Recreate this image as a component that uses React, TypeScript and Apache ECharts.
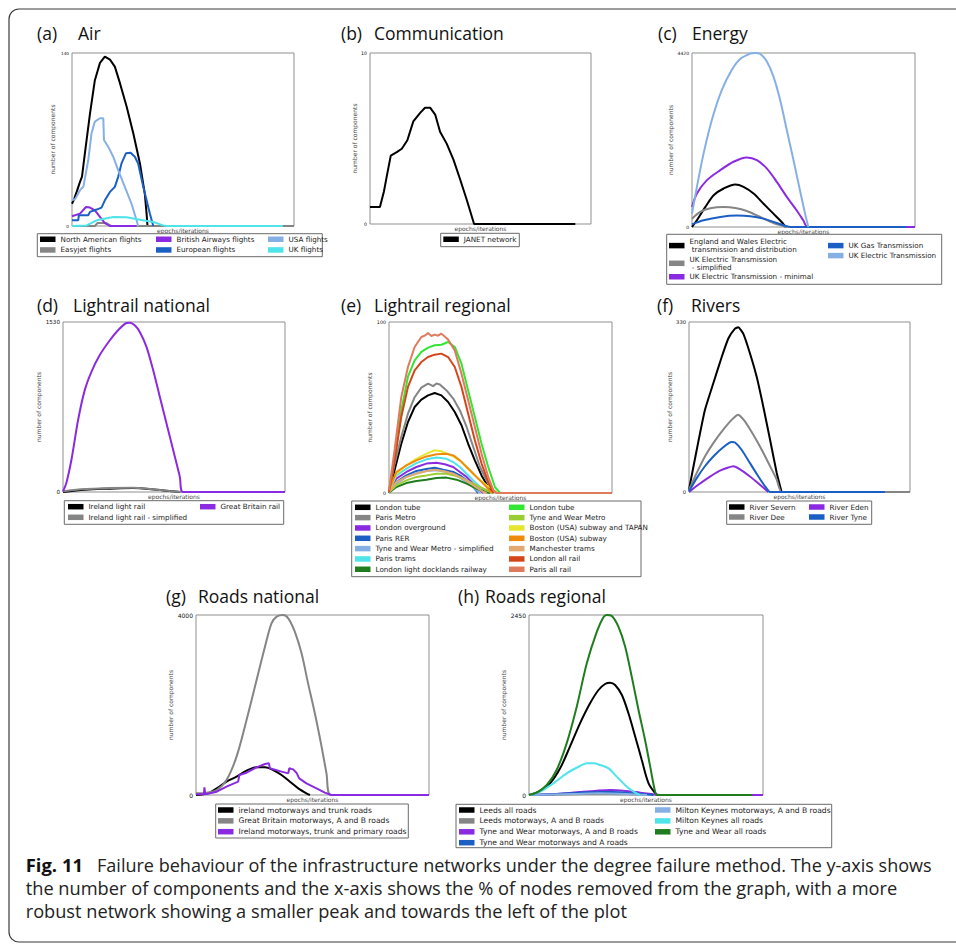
import React, { useEffect, useRef } from "react";
import * as echarts from "echarts";

// ---------- (a) Air ----------
const northAmericanFlights = [[0,18],[1,22],[2.1,27.6],[3.6,35.7],[4.5,40],[5.8,58.8],[8.1,91],[10.3,118],[12.6,132],[14.8,137],[17.1,134.6],[19.3,129],[21.6,115.6],[24.6,96.7],[27.6,75],[30.6,50.6],[32.8,26],[33.6,10],[34,0]];
const easyjetFlights = [[0,0],[10.3,0],[11.5,2.4],[15.5,2.4],[17.8,0],[100,0]];
const britishAirwaysFlights = [[0,7.9],[3.6,10],[6.3,15.4],[8.1,14.9],[10.3,12.7],[12.6,7.3],[14.8,2.4],[17.1,0],[29,0]];
const europeanFlights = [[0,4.6],[2.8,4.6],[3.1,8.7],[7.3,8.7],[8.1,11.4],[11.1,13.3],[13.3,14.9],[14.8,20.8],[17.1,27.6],[19.3,31.7],[20.8,39.8],[22.3,50.6],[24.3,58.8],[26.4,59.3],[28.3,56],[29.8,50.6],[32.1,31.7],[35.1,10],[36.6,0]];
const usaFlights = [[0,20.8],[1.5,22],[3.6,29],[5.1,31.7],[7.3,53],[8.8,75],[10.3,84.5],[12.6,87.2],[14.1,87.2],[14.4,69.6],[16.3,64.2],[18.6,56],[20.8,45.2],[23.8,31.7],[26.8,18],[29.1,4.6],[29.8,0]];
const ukFlights = [[0,0],[6.6,0.5],[11.1,4.6],[18.6,7.3],[24.6,7],[30.6,5.1],[36.6,3.2],[41.1,0.5],[42.6,0],[95,0]];

// ---------- (b) Communication ----------
const janetNetwork = [[0,1],[4.5,1],[6.3,1.9],[7.6,2.8],[9.4,4.0],[12.1,4.2],[14.4,4.4],[16.9,4.9],[19.6,6.0],[22.7,6.5],[24.9,6.8],[27.2,6.8],[29.5,6.4],[31.7,5.4],[34.7,4.7],[37.8,3.75],[40.8,2.6],[43.8,1.4],[47.1,0],[92.9,0]];

// ---------- (c) Energy ----------
const englandWalesElectric = [[0,0],[2.2,170],[6,510],[9.7,808],[14.2,978],[19.4,1080],[23.1,1020],[27.6,850],[32,595],[36.5,340],[40.2,128],[42,0]];
const ukElectricSimplified = [[0,212],[3.7,383],[8.2,476],[14.2,510],[19.4,485],[24.6,408],[30.6,255],[36.5,102],[41,25],[42.5,0]];
const ukElectricMinimal = [[0,510],[2.2,850],[6.7,1190],[12.7,1445],[18.6,1658],[24.6,1768],[29.1,1700],[33.5,1488],[38,1148],[42.5,765],[46.9,425],[49.9,170],[51.9,0],[100,0]];
const ukGasTransmission = [[0,68],[5.2,170],[12.7,255],[20.1,289],[26.1,272],[32,212],[38,102],[42.5,17],[44,0],[96,0]];
const ukElectricTransmission = [[0,340],[2.2,1020],[5.2,1870],[8.9,2720],[13.4,3485],[17.9,3995],[21.6,4267],[26.1,4403],[28.3,4420],[30.6,4395],[33.5,4208],[36.5,3825],[39.5,3230],[42.5,2465],[45.5,1700],[48.4,935],[50.7,340],[52.2,0]];

// ---------- (d) Lightrail national ----------
const irelandLightRail = [[0,0],[9.8,21],[21.1,30],[31.6,36],[42.1,21],[52.6,0]];
const irelandLightRailSimplified = [[0,6],[6,21],[10.5,27],[21.1,36],[31.6,39],[39.1,27],[48.1,9],[53.4,0]];
const greatBritainRail = [[0,6],[1.5,81],[3.8,290],[6.8,648],[9.8,917],[12.8,1082],[16.5,1231],[21.1,1366],[24.8,1456],[28.6,1521],[30.1,1524],[32.3,1500],[34.6,1440],[37.6,1306],[40.6,1097],[43.6,858],[46.6,619],[49.6,380],[52.6,140],[54.1,0],[100,0]];

// ---------- (e) Lightrail regional ----------
const londonTube = [[0,0.2],[2.5,13.3],[5.5,28.8],[8.5,41.5],[11.5,50.3],[14.5,54.6],[17.5,57.1],[20.5,58.5],[23.5,57.1],[26.5,53.2],[29.5,47.4],[32.5,39.6],[35.5,28.8],[38.5,19.1],[41.5,10.3],[44.5,3.5],[46.8,0]];
const parisMetro = [[0,0.6],[2.5,17],[5.5,32.7],[8.5,46.4],[11.5,56],[14.5,61.6],[17.5,64],[19.8,62.5],[21.3,64],[22.8,63.5],[25.8,60],[28.8,55.2],[31.8,48.3],[34.8,38.6],[37.8,26.9],[40.8,15.2],[43.8,7.4],[46.8,1.6],[48.3,0]];
const londonOverground = [[0,0.6],[3.3,8.4],[7.8,12.3],[12.3,15.2],[16.8,17.2],[21.3,17.7],[25,16.8],[28.8,15.2],[31.8,12.3],[34.8,9.4],[37.8,5.5],[40.8,1.6],[42.3,0]];
const parisRER = [[0,0.4],[3.3,6.4],[7.8,10.3],[12.3,12.9],[16.8,14],[20.5,14.8],[24.3,13.6],[28.8,12.3],[31.8,10.3],[34.8,7.4],[37.8,3.5],[40,0]];
const tyneWearMetroSimplified = [[0,0.4],[3.3,5.5],[7.8,9.4],[12.3,11.7],[16.8,12.9],[21.3,13.3],[25.8,12.3],[30.3,10.3],[34.8,6.4],[38.5,2.5],[40.8,0]];
const parisTrams = [[0,0.6],[3.3,10.3],[7.8,14.2],[12.3,17.5],[16.8,19.7],[21.3,20.7],[25.8,20],[28.8,18.1],[31.8,15.2],[34.8,11.3],[37.8,7.4],[40.8,3.5],[43.8,0]];
const londonDocklands = [[0,0.2],[3.3,3.5],[7.8,5.8],[12.3,7],[16.8,7.8],[21.3,8.8],[25.8,9],[30.3,7.8],[34.8,5.5],[39.3,2.5],[43.8,0.4],[45.3,0]];
const londonTubeGreen = [[0,0.6],[2.5,21],[5.5,48],[8.5,68],[11.5,77.6],[14.5,82.5],[17.5,85],[20.5,86.4],[23.5,86.7],[26.5,88.3],[29.5,85.4],[32.5,75.6],[35.5,60],[38.5,44.4],[41.5,28.8],[44.5,15.2],[47.5,3.5],[49.8,0]];
const tyneWearMetro = [[0,0.4],[3.3,4.5],[7.8,7.4],[12.3,9.4],[16.8,10.3],[21.3,11.3],[25.8,11.3],[30.3,9.9],[34.8,7.4],[39.3,4.5],[43.8,1.6],[46.8,0]];
const bostonSubwayTapan = [[0,1.6],[3.3,11.3],[7.8,16.2],[12.3,20],[16.8,23],[20.5,25],[23.5,24.4],[26.5,22.6],[29.5,21],[32.5,18.1],[36.3,13.3],[40,8.4],[43.8,4.5],[46.8,1.6],[49,0]];
const bostonSubway = [[0,1.6],[3.3,12.3],[7.8,16.2],[12.3,19.1],[16.8,21.4],[21.3,22.6],[25.8,23],[28.8,22],[31.8,19.1],[34.8,15.2],[37.8,11.3],[40.8,7.4],[43.8,3.5],[46,0]];
const manchesterTrams = [[0,0.4],[3.3,6.4],[7.8,9.4],[12.3,11.3],[16.8,12.9],[20.5,13.6],[24.3,12.9],[28.8,11.3],[33.3,8.4],[37.8,4.5],[42.3,0.6],[43.8,0]];
const londonAllRail = [[0,0.6],[2.5,19],[5.5,44.4],[8.5,62],[11.5,71.7],[14.5,76.6],[17.5,79.5],[20.5,80.9],[23.5,81.5],[26.5,79.5],[29.5,73.7],[32.5,62],[35.5,46.4],[38.5,30.8],[41.5,17.2],[44.5,6.4],[46.8,0]];
const parisAllRail = [[0,1.6],[2.5,25],[5.5,56],[8.5,73.7],[11.5,85.4],[14.5,91.2],[16,92],[17.5,93.5],[19,91.8],[20.5,92.6],[22,92],[23.5,93.2],[26.5,89.7],[29.5,83.4],[32.5,69.8],[35.5,54.2],[38.5,38.6],[41.5,23],[44.5,9.4],[46.8,1.6],[48.3,0],[100,0]];

// ---------- (f) Rivers ----------
const riverSevern = [[0,4.5],[3.5,82],[7.2,159],[11,211],[14.8,262],[17.8,298],[20.8,317],[22.3,320],[24.6,307],[27.6,269],[30.6,224],[33.6,166],[36.7,101],[39.7,37],[41.9,0]];
const riverDee = [[0,4.5],[3.5,37],[7.2,69],[11,95],[15.5,121],[19.3,140],[22.3,150],[25.3,137],[29.1,111],[32.9,82],[36.7,50],[39.7,24],[41.9,0],[100,0]];
const riverEden = [[0,0],[4.2,14],[9.5,30],[14.8,43],[20.1,50],[23.1,44],[27.6,30],[32.1,14],[35.9,0]];
const riverTyne = [[0,1.3],[3.5,27],[7.2,50],[11,69],[15.5,87],[19.3,97],[20.8,96],[23.8,82],[27.6,56],[31.4,30],[34.4,11],[36.7,0],[88.7,0]];

// ---------- (g) Roads national ----------
const irelandMotorwaysTrunk = [[0,0],[5.3,37],[8.9,148],[13.1,296],[17.4,407],[21.7,541],[26,615],[29.6,615],[33.1,556],[36.7,444],[40.3,296],[43.9,148],[47.4,37],[48.9,0]];
const gbMotorwaysAB = [[0,37],[4.6,52],[8.9,111],[13.1,333],[17.4,852],[21.7,1667],[26,2556],[29.6,3296],[32.4,3815],[34.6,3963],[37.4,4000],[39.6,3926],[42.4,3630],[45.3,3148],[48.1,2481],[51,1815],[53.9,1074],[56,481],[57.9,0],[100,0]];
const irelandMotorwaysPrimary = [[0,15],[3.4,15],[3.6,170],[4,15],[8.9,74],[13.1,185],[18.1,296],[18.6,444],[21.7,496],[26,615],[29.6,689],[31.3,704],[31.7,593],[36.7,519],[39.6,481],[40,593],[41.7,570],[43.1,496],[44.3,370],[47.4,259],[51.7,148],[55.3,52],[58.1,0],[100,0]];

// ---------- (h) Roads regional ----------
const leedsAllRoads = [[0,0],[4.7,54],[9,159],[13.3,363],[17.5,658],[21.8,975],[26.1,1248],[29.7,1429],[32.5,1511],[34.7,1529],[36.8,1497],[39.7,1361],[42.5,1112],[45.4,794],[48.2,476],[51.1,159],[54.6,0]];
const leedsMotorwaysAB = [[0,0],[19,9],[30.4,18],[41.8,9],[50.4,0]];
const tyneWearMotorwaysAB = [[0,0],[11.8,14],[21.8,41],[29,59],[34.7,68],[40.4,59],[47.5,32],[53.2,9],[56.1,0],[100,0]];
const tyneWearMotorwaysA = [[0,0],[11.8,14],[21.8,32],[30.4,41],[36.1,41],[44.6,23],[53.2,0]];
const miltonKeynesMotorwaysAB = [[0,0],[19,14],[30.4,23],[41.8,14],[50.4,0]];
const miltonKeynesAllRoads = [[0,0],[4.7,45],[10.4,159],[16.1,295],[21.8,395],[24.7,431],[27.5,431],[30.4,408],[34,363],[37.5,250],[41.8,113],[45.4,32],[47.5,0]];
const tyneWearAllRoads = [[0,0],[3.3,32],[7.6,136],[11.8,340],[16.1,703],[20.4,1202],[24.7,1792],[29,2223],[31.8,2418],[33.2,2450],[35.4,2436],[38.2,2291],[41.1,2019],[43.9,1611],[46.8,1157],[49.6,749],[51.8,386],[53.9,45],[54.9,0],[95.3,0]];

// ---------- axis maxima ----------
const yMaxima = [140, 10, 4420, 1530, 100, 330, 4000, 2450];

const captionBold = "Fig. 11";
const captionLines = [
  "Failure behaviour of the infrastructure networks under the degree failure method. The y-axis shows",
  "the number of components and the x-axis shows the % of nodes removed from the graph, with a more",
  "robust network showing a smaller peak and towards the left of the plot",
];

const C = {
  black: "#000000", gray: "#858585", purple: "#8a2be2", blue: "#1b5fc4", lightBlue: "#86b0e4",
  cyan: "#4fe3ea", green: "#33e633", yellowGreen: "#9acd32", yellow: "#e6e62e", orange: "#f08a0c",
  tan: "#e2a870", red: "#d4461a", salmon: "#e07a5c", darkGreen: "#1f7d1f",
};

type Ser = { name: string; color: string; data: number[][]; smooth?: number };
type Col = [number, number, number, number]; // left, count, top, gap
type Panel = {
  label: string; word: string; lx: number; wx: number; by: number;
  grid: number[]; ySize: number; nameGap: number; smooth: number;
  series: Ser[]; cols: Col[]; font: number; lh: number; box: number[];
};

const panels: Panel[] = [
  { label: "(a)", word: "Air", lx: 37, wx: 78, by: 39.3, grid: [72, 53, 222, 173], ySize: 4.2, nameGap: 17, smooth: 0,
    series: [
      { name: "North American flights", color: C.black, data: northAmericanFlights },
      { name: "Easyjet flights", color: C.gray, data: easyjetFlights },
      { name: "British Airways flights", color: C.purple, data: britishAirwaysFlights },
      { name: "European flights", color: C.blue, data: europeanFlights },
      { name: "USA flights", color: C.lightBlue, data: usaFlights },
      { name: "UK flights", color: C.cyan, data: ukFlights },
    ],
    cols: [[40, 2, 235, 2.2], [156, 2, 235, 2.2], [268, 2, 235, 2.2]], font: 7.2, lh: 8.5, box: [37.3, 233.7, 285, 23] },
  { label: "(b)", word: "Communication", lx: 341, wx: 374, by: 39.3, grid: [370, 53, 221, 171], ySize: 4.7, nameGap: 13, smooth: 0,
    series: [{ name: "JANET network", color: C.black, data: janetNetwork }],
    cols: [[443.3, 1, 235, 2]], font: 7.2, lh: 8.5, box: [440.7, 233.3, 78.6, 13.4] },
  { label: "(c)", word: "Energy", lx: 658, wx: 692, by: 39.3, grid: [692, 53, 223, 174], ySize: 4.5, nameGap: 19, smooth: 0.3,
    series: [
      { name: "England and Wales Electric\n transmission and distribution", color: C.black, data: englandWalesElectric },
      { name: "UK Electric Transmission\n - simplified", color: C.gray, data: ukElectricSimplified },
      { name: "UK Electric Transmission - minimal", color: C.purple, data: ukElectricMinimal },
      { name: "UK Gas Transmission", color: C.blue, data: ukGasTransmission },
      { name: "UK Electric Transmission", color: C.lightBlue, data: ukElectricTransmission },
    ],
    cols: [[669, 3, 237.1, 0.7], [828, 2, 241.35, 1.5]], font: 7.2, lh: 8.5, box: [666.7, 234.3, 275, 50] },
  { label: "(d)", word: "Lightrail national", lx: 37, wx: 73, by: 310.7, grid: [63, 322, 222, 170], ySize: 5.6, nameGap: 20, smooth: 0.3,
    series: [
      { name: "Ireland light rail", color: C.black, data: irelandLightRail },
      { name: "Ireland light rail - simplified", color: C.gray, data: irelandLightRailSimplified },
      { name: "Great Britain rail", color: C.purple, data: greatBritainRail },
    ],
    cols: [[68, 2, 502.45, 2.1], [200, 1, 502.45, 2.1]], font: 7.2, lh: 8.5, box: [64.3, 500.7, 219.4, 23.6] },
  { label: "(e)", word: "Lightrail regional", lx: 341, wx: 374, by: 310.7, grid: [389, 322, 223, 171], ySize: 4.8, nameGap: 16, smooth: 0,
    series: [
      { name: "London tube", color: C.black, data: londonTube },
      { name: "Paris Metro", color: C.gray, data: parisMetro },
      { name: "London overground", color: C.purple, data: londonOverground },
      { name: "Paris RER", color: C.blue, data: parisRER },
      { name: "Tyne and Wear Metro - simplified", color: C.lightBlue, data: tyneWearMetroSimplified },
      { name: "Paris trams", color: C.cyan, data: parisTrams },
      { name: "London light docklands railway", color: C.darkGreen, data: londonDocklands },
      { name: "London tube ", color: C.green, data: londonTubeGreen },
      { name: "Tyne and Wear Metro", color: C.yellowGreen, data: tyneWearMetro },
      { name: "Boston (USA) subway and TAPAN", color: C.yellow, data: bostonSubwayTapan },
      { name: "Boston (USA) subway", color: C.orange, data: bostonSubway },
      { name: "Manchester trams", color: C.tan, data: manchesterTrams },
      { name: "London all rail", color: C.red, data: londonAllRail },
      { name: "Paris all rail", color: C.salmon, data: parisAllRail },
    ],
    cols: [[355, 7, 503.05, 1.83], [509, 7, 503.05, 1.83]], font: 7.2, lh: 8.5, box: [351.7, 501, 289.3, 75.7] },
  { label: "(f)", word: "Rivers", lx: 657, wx: 691, by: 310.7, grid: [689, 322, 221, 170], ySize: 5.2, nameGap: 17, smooth: 0.15,
    series: [
      { name: "River Severn", color: C.black, data: riverSevern },
      { name: "River Dee", color: C.gray, data: riverDee },
      { name: "River Eden", color: C.purple, data: riverEden },
      { name: "River Tyne", color: C.blue, data: riverTyne },
    ],
    cols: [[729, 2, 502.75, 1.5], [809, 2, 502.75, 1.5]], font: 7.2, lh: 8.5, box: [726.7, 501, 145, 23.3] },
  { label: "(g)", word: "Roads national", lx: 166, wx: 198, by: 602, grid: [196, 615, 233, 180], ySize: 6, nameGap: 21.5, smooth: 0.3,
    series: [
      { name: "ireland motorways and trunk roads", color: C.black, data: irelandMotorwaysTrunk },
      { name: "Great Britain motorways, A and B roads", color: C.gray, data: gbMotorwaysAB },
      { name: "Ireland motorways, trunk and primary roads", color: C.purple, data: irelandMotorwaysPrimary, smooth: 0 },
    ],
    cols: [[218, 3, 805.5, 1.85]], font: 7.6, lh: 9, box: [215.7, 804, 192.6, 34] },
  { label: "(h)", word: "Roads regional", lx: 458, wx: 485, by: 602, grid: [529, 615, 234, 180], ySize: 6, nameGap: 21, smooth: 0.3,
    series: [
      { name: "Leeds all roads", color: C.black, data: leedsAllRoads },
      { name: "Leeds motorways, A and B roads", color: C.gray, data: leedsMotorwaysAB },
      { name: "Tyne and Wear motorways, A and B roads", color: C.purple, data: tyneWearMotorwaysAB },
      { name: "Tyne and Wear motorways and A roads", color: C.blue, data: tyneWearMotorwaysA },
      { name: "Milton Keynes motorways, A and B roads", color: C.lightBlue, data: miltonKeynesMotorwaysAB },
      { name: "Milton Keynes all roads", color: C.cyan, data: miltonKeynesAllRoads },
      { name: "Tyne and Wear all roads", color: C.darkGreen, data: tyneWearAllRoads },
    ],
    cols: [[459, 4, 805.5, 1.9], [655, 3, 805.5, 1.9]], font: 7.6, lh: 9, box: [456, 804.3, 375.7, 43.4] },
];

const AXIS_FONT = "DejaVu Sans";
const TITLE_FONT = "Open Sans";

function measure(text: string, font: string): number {
  const ctx = document.createElement("canvas").getContext("2d");
  if (!ctx) return 0;
  ctx.font = font;
  return ctx.measureText(text).width;
}

function buildOption() {
  const grid: any[] = [];
  const xAxis: any[] = [];
  const yAxis: any[] = [];
  const series: any[] = [];
  const legend: any[] = [];
  const graphic: any[] = [];

  graphic.push({
    type: "rect", z: 0, silent: true,
    shape: { x: 9, y: 9, width: 1000, height: 933, r: 10 },
    style: { fill: "none", stroke: "#3a3a3a", lineWidth: 1.2 },
  });

  panels.forEach((p, i) => {
    const [l, t, w, h] = p.grid;
    grid.push({ left: l, top: t, width: w, height: h, show: true, borderColor: "#8f8f8f", borderWidth: 1, backgroundColor: "transparent" });
    xAxis.push({
      gridIndex: i, type: "value", min: 0, max: 100,
      axisLine: { show: false }, axisTick: { show: false }, axisLabel: { show: false }, splitLine: { show: false },
      name: "epochs/iterations", nameLocation: "middle", nameGap: 1.5,
      nameTextStyle: { fontFamily: AXIS_FONT, fontSize: 6, color: "#444" },
    });
    yAxis.push({
      gridIndex: i, type: "value", min: 0, max: yMaxima[i], interval: yMaxima[i],
      axisLine: { show: false }, axisTick: { show: false }, splitLine: { show: false },
      axisLabel: { fontFamily: AXIS_FONT, fontSize: p.ySize, color: "#111", margin: 3, formatter: (v: number) => String(v) },
      name: "number of components", nameLocation: "middle", nameRotate: 90, nameGap: p.nameGap,
      nameTextStyle: { fontFamily: AXIS_FONT, fontSize: 6, color: "#444" },
    });
    p.series.forEach((s) => {
      const sm = s.smooth !== undefined ? s.smooth : p.smooth;
      series.push({
        type: "line", name: s.name, xAxisIndex: i, yAxisIndex: i, data: s.data,
        showSymbol: false, symbol: "none", smooth: sm > 0 ? sm : false,
        lineStyle: { color: s.color, width: 2 }, itemStyle: { color: s.color },
        emphasis: { disabled: true }, silent: true,
      });
    });
    let k = 0;
    p.cols.forEach(([left, n, top, gap]) => {
      const names = p.series.slice(k, k + n).map((s) => s.name);
      k += n;
      legend.push({
        orient: "vertical", left, top, padding: 0, itemGap: gap,
        icon: "rect", itemWidth: 15.5, itemHeight: 5.5, selectedMode: false,
        data: names,
        formatter: (nm: string) => nm.replace(/\s+$/, ""),
        textStyle: { fontFamily: AXIS_FONT, fontSize: p.font, lineHeight: p.lh, color: "#222", padding: 0 },
      });
    });
    const [bx, byy, bw, bh] = p.box;
    graphic.push({
      type: "rect", silent: true, z: 1,
      shape: { x: bx, y: byy, width: bw, height: bh },
      style: { fill: "#fff", stroke: "#6a6a6a", lineWidth: 1 },
    });
    const ty = p.by - 6.2;
    graphic.push({ type: "text", x: p.lx, y: ty, silent: true,
      style: { text: p.label, font: `17.5px "${TITLE_FONT}"`, fill: "#111", align: "left", verticalAlign: "middle" } });
    graphic.push({ type: "text", x: p.wx, y: ty, silent: true,
      style: { text: p.word, font: `17.5px "${TITLE_FONT}"`, fill: "#111", align: "left", verticalAlign: "middle" } });
  });

  // caption
  const capFont = `18.5px "${TITLE_FONT}"`;
  const boldFont = `bold 18.5px "${TITLE_FONT}"`;
  const lineStarts = [97, 25.7, 25.7];
  const lineEnds = [931.7, 897.7, 627];
  const baselines = [870.5, 893.5, 916.5];
  const boldW = measure(captionBold, boldFont) || 57;
  graphic.push({ type: "text", x: 25.7, y: baselines[0] - 6.3, scaleX: 57.3 / boldW, silent: true,
    style: { text: captionBold, font: boldFont, fill: "#111", align: "left", verticalAlign: "middle" } });
  captionLines.forEach((txt, j) => {
    const mw = measure(txt, capFont);
    const sx = mw > 0 ? (lineEnds[j] - lineStarts[j]) / mw : 1;
    graphic.push({ type: "text", x: lineStarts[j], y: baselines[j] - 6.3, scaleX: sx, silent: true,
      style: { text: txt, font: capFont, fill: "#222", align: "left", verticalAlign: "middle" } });
  });

  return { animation: false, backgroundColor: "#ffffff", grid, xAxis, yAxis, series, legend, graphic };
}

export default function App() {
  const ref = useRef<HTMLDivElement>(null);
  useEffect(() => {
    if (!ref.current) return;
    const chart = echarts.init(ref.current, undefined, { renderer: "svg" });
    chart.setOption(buildOption() as any);
    return () => chart.dispose();
  }, []);
  return <div ref={ref} style={{ position: "absolute", left: 0, top: 0, width: 956, height: 945, background: "#fff" }} />;
}
